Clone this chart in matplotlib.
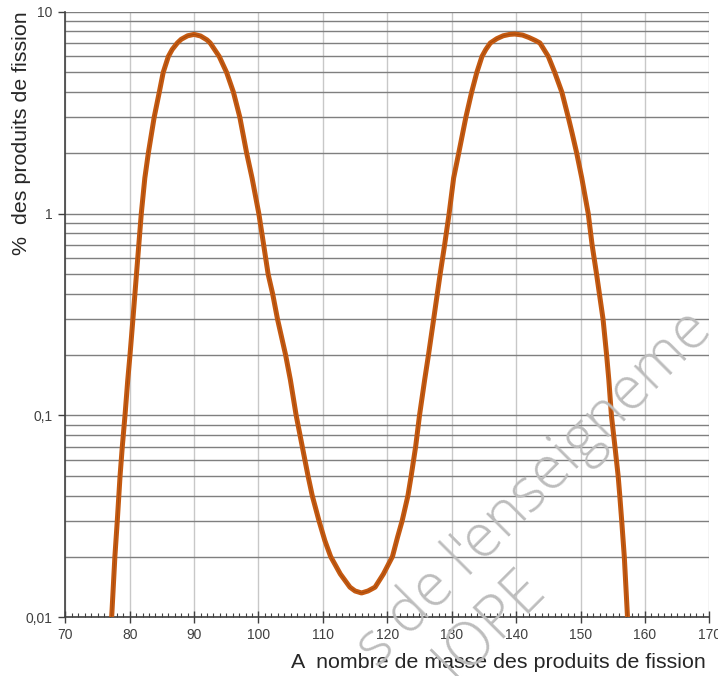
import matplotlib
matplotlib.use("Agg")
import matplotlib.pyplot as plt
from matplotlib.ticker import FixedLocator, NullFormatter, MultipleLocator

# --- data (mass number A, % of fission products) ---
mass_number = [77.2, 77.7, 78.07, 78.5, 78.85, 79.27, 79.7, 80.05, 80.5, 81.05,
               81.8, 82.35, 82.9, 83.8, 84.6, 85.2, 86.0, 86.6, 87.4, 88.0,
               89.0, 90.0, 91.0, 92.0, 92.5, 93.9, 95.05, 96.1, 97.1, 98.15,
               99.0, 100.05, 100.8, 101.5, 102.2, 102.95, 104.2, 104.95, 105.85, 106.8,
               107.7, 108.35, 109.4, 110.3, 111.2, 112.7, 114.2, 115.0, 116.0, 117.0,
               118.1, 119.4, 120.8, 121.6, 122.3, 123.2, 123.7, 124.4, 125.0, 125.8,
               126.4, 127.2, 128.2, 128.9, 129.6, 130.3, 131.1, 132.2, 133.1, 133.9,
               134.7, 135.3, 136.0, 137.0, 138.0, 139.0, 139.8, 141.0, 142.0, 143.0,
               143.7, 145.0, 146.0, 147.1, 148.1, 148.7, 149.4, 150.2, 151.2, 151.8,
               152.5, 153.5, 154.05, 154.4, 154.8, 155.35, 155.85, 156.1, 156.4, 156.8,
               157.3]
yield_pct = [0.01, 0.02, 0.03, 0.05, 0.07, 0.1, 0.15, 0.2, 0.3, 0.5,
             1, 1.5, 2, 3, 4, 5, 6, 6.5, 7, 7.3,
             7.6, 7.72, 7.58, 7.25, 7, 6, 5, 4, 3, 2,
             1.5, 1, 0.7, 0.5, 0.4, 0.3, 0.2, 0.15, 0.1, 0.07,
             0.05, 0.04, 0.03, 0.024, 0.02, 0.0164, 0.0141, 0.0135, 0.0132, 0.0135,
             0.0141, 0.0164, 0.02, 0.025, 0.03, 0.04, 0.05, 0.07, 0.1, 0.15,
             0.2, 0.3, 0.5, 0.7, 1, 1.5, 2, 3, 4, 5,
             6, 6.5, 7, 7.35, 7.6, 7.72, 7.75, 7.66, 7.45, 7.2,
             7, 6, 5, 4, 3, 2.5, 2, 1.5, 1, 0.7,
             0.5, 0.3, 0.2, 0.15, 0.1, 0.07, 0.05, 0.04, 0.03, 0.02,
             0.01]

x_ticks = [70, 80, 90, 100, 110, 120, 130, 140, 150, 160, 170]
y_ticks = [0.01, 0.1, 1, 10]
y_tick_labels = ["0,01", "0,1", "1", "10"]
x_label = "A  nombre de masse des produits de fission"
y_label = "%  des produits de fission"
watermark_1 = "s de l'enseigneme"
watermark_2 = "IOPE"

plt.rcParams['font.family'] = ['Liberation Sans', 'DejaVu Sans']

fig = plt.figure(figsize=(7.18, 6.76), dpi=100)
W, H = 718, 676
left, right, top, bottom = 65.3, 709.3, 11.7, 617.3
ax = fig.add_axes([left / W, 1 - bottom / H, (right - left) / W, (bottom - top) / H])

ax.set_yscale('log')
ax.set_xlim(70, 170)
ax.set_ylim(0.01, 10)

# grid
minor_y = [m * 10.0 ** e for e in (-2, -1, 0) for m in range(2, 10)]
ax.yaxis.set_major_locator(FixedLocator(y_ticks))
ax.yaxis.set_minor_locator(FixedLocator(minor_y))
ax.yaxis.set_minor_formatter(NullFormatter())
ax.set_yticklabels(y_tick_labels)
ax.xaxis.set_major_locator(FixedLocator(x_ticks))
ax.xaxis.set_minor_locator(MultipleLocator(1))

ax.grid(True, which='major', axis='y', color='#7f7f7f', linewidth=1.0)
ax.grid(True, which='minor', axis='y', color='#7f7f7f', linewidth=1.0)
ax.grid(True, which='major', axis='x', color='#c8c8c8', linewidth=1.0)
ax.set_axisbelow(True)

for s in ('top', 'right'):
    ax.spines[s].set_visible(False)
for s in ('left', 'bottom'):
    ax.spines[s].set_color('#404040')
    ax.spines[s].set_linewidth(1.2)

ax.tick_params(axis='y', which='major', direction='out', length=5, width=1.0,
               color='#404040', labelsize=10, labelcolor='#404040', pad=4)
ax.tick_params(axis='y', which='minor', length=0)
ax.tick_params(axis='x', which='major', direction='inout', length=9, width=1.0,
               color='#404040', labelsize=10, labelcolor='#404040', pad=3)
ax.tick_params(axis='x', which='minor', direction='in', length=3, width=0.8,
               color='#404040')

# curve
ax.plot(mass_number, yield_pct, color='#c55a11', linewidth=3.6,
        solid_capstyle='round', solid_joinstyle='round', zorder=3)
ax.plot(mass_number, yield_pct, color='#5a2608', linewidth=0.6, alpha=0.35,
        zorder=4)

# axis titles
fig.text(706 / W, 1 - 662 / H, x_label, ha='right', va='center',
         fontsize=15.4, color='#262626')
fig.text(22 / W, 1 - 11 / H, y_label, ha='center', va='top', rotation=90,
         fontsize=15.4, color='#262626')

# watermark
fig.text(377 / W, 1 - 668 / H, watermark_1, rotation=45,
         rotation_mode='anchor', ha='left', va='baseline', fontsize=43,
         color='#bdbdbd', family=['Open Sans', 'DejaVu Sans'],
         fontweight='light', zorder=10)
fig.text(456 / W, 1 - 682 / H, watermark_2, rotation=45,
         rotation_mode='anchor', ha='left', va='baseline', fontsize=43,
         color='#bdbdbd', family=['Open Sans', 'DejaVu Sans'],
         fontweight='light', zorder=10)

fig.savefig('out.png', dpi=100)
